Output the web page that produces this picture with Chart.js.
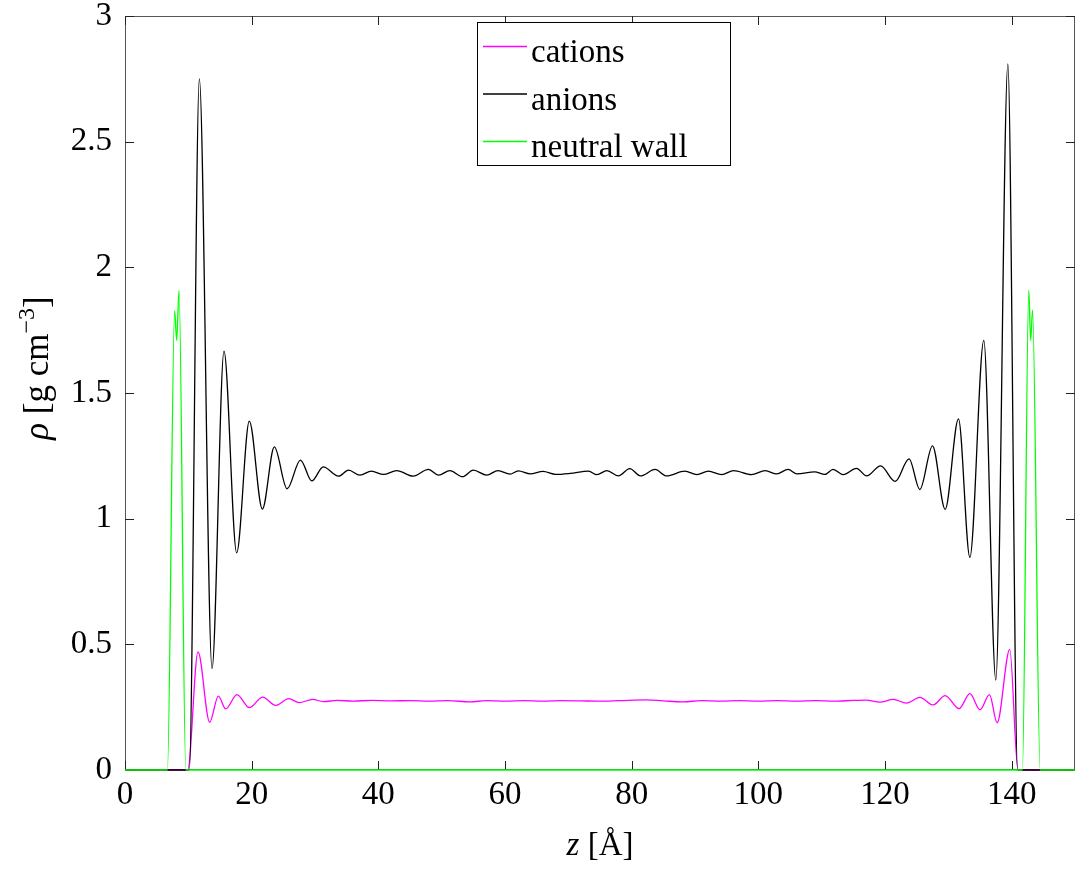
<!DOCTYPE html>
<html>
<head>
<meta charset="utf-8">
<script src="https://cdn.jsdelivr.net/npm/chart.js@4.4.1/dist/chart.umd.min.js"></script>
<style>
  html, body { margin: 0; padding: 0; background: #fff; }
  canvas { display: block; }
</style>
</head>
<body>
<canvas id="c" width="1076" height="870"></canvas>
<script>
// ---------- data ----------
const seriesLabels = ['cations', 'anions', 'neutral wall'];
const seriesColors = ['#ff00ff', '#000000', '#00ff00'];

const xTickValues = [0, 20, 40, 60, 80, 100, 120, 140];
const yTickValues = [0, 0.5, 1, 1.5, 2, 2.5, 3];

const zCations = [0, 9.9, 11.53, 13.37, 14.74, 15.9, 17.68, 19.63, 21.74, 23.8,
  25.85, 27.5, 29.64, 31.3, 33.5, 36, 39, 42, 45, 48,
  51, 54.5, 57, 60, 63, 66, 69, 72, 75, 78,
  82.4, 85, 88.1, 91, 94, 97, 100, 103, 106, 109,
  112, 115, 117, 119.2, 121.3, 123.4, 125.5, 127.6, 129.5, 131.7,
  133.4, 135.0, 136.5, 137.7, 139.7, 141.0, 150];
const rhoCations = [0, 0, 0.470, 0.190, 0.294, 0.243, 0.300, 0.248, 0.290, 0.257,
  0.284, 0.268, 0.281, 0.272, 0.277, 0.274, 0.277, 0.275, 0.276, 0.274,
  0.276, 0.271, 0.276, 0.274, 0.276, 0.274, 0.276, 0.275, 0.274, 0.276,
  0.279, 0.275, 0.271, 0.276, 0.274, 0.276, 0.274, 0.276, 0.274, 0.276,
  0.274, 0.277, 0.278, 0.270, 0.281, 0.266, 0.289, 0.259, 0.296, 0.244,
  0.304, 0.240, 0.300, 0.188, 0.480, 0, 0];

const zAnions = [0, 10.15, 11.74, 13.74, 15.63, 17.63, 19.63, 21.69, 23.58, 25.6,
  27.7, 29.5, 31.3, 33.7, 35.3, 37.1, 38.9, 40.8, 42.9, 45.5,
  47.9, 49.5, 51.3, 53.3, 55.0, 57.1, 58.9, 60.8, 62.1, 64.0,
  66.0, 68.0, 70.3, 73.2, 74.5, 76.1, 77.9, 79.7, 81.4, 83.7,
  85.5, 88.4, 90.3, 92.1, 94.2, 96.1, 98.9, 101.1, 102.9, 104.7,
  106.1, 108.9, 110.5, 111.8, 113.4, 115.5, 117.1, 119.3, 121.6, 123.8,
  125.5, 127.5, 129.5, 131.6, 133.4, 135.6, 137.5, 139.4, 140.95, 150];
const rhoAnions = [0, 0, 2.75, 0.403, 1.667, 0.864, 1.388, 1.038, 1.286, 1.119,
  1.233, 1.150, 1.206, 1.169, 1.193, 1.173, 1.189, 1.176, 1.191, 1.169,
  1.196, 1.173, 1.191, 1.167, 1.193, 1.173, 1.191, 1.177, 1.190, 1.178,
  1.188, 1.176, 1.180, 1.189, 1.175, 1.191, 1.170, 1.199, 1.170, 1.196,
  1.170, 1.189, 1.175, 1.189, 1.175, 1.191, 1.175, 1.191, 1.178, 1.196,
  1.178, 1.186, 1.176, 1.196, 1.175, 1.200, 1.170, 1.210, 1.148, 1.238,
  1.116, 1.290, 1.037, 1.397, 0.846, 1.709, 0.358, 2.809, 0, 0];

const zWall = [0, 6.7, 7.84, 8.16, 8.53, 9.6, 141.7, 142.7, 143.0, 143.3, 144.5, 150];
const rhoWall = [0, 0, 1.828, 1.709, 1.908, 0, 0, 1.909, 1.709, 1.830, 0, 0];

// ---------- helpers ----------
const pts = (zs, rs) => zs.map((z, i) => ({ x: z, y: rs[i] }));
const SERIF = '"Liberation Serif", "DejaVu Serif", serif';
const FS = 33;

// frame + inward ticks on all four sides
const framePlugin = {
  id: 'frame',
  beforeDatasetsDraw(chart) {
    const { ctx, chartArea: a, scales: { x, y } } = chart;
    ctx.save();
    ctx.lineWidth = 1;
    ctx.strokeStyle = '#555';
    ctx.strokeRect(a.left + 0.5, a.top + 0.5, a.right - a.left - 1, a.bottom - a.top - 1);
    ctx.strokeStyle = '#222';
    ctx.beginPath();
    const L = 9;
    x.ticks.forEach(t => {
      const p = Math.round(x.getPixelForValue(t.value)) + 0.5;
      ctx.moveTo(p, a.bottom); ctx.lineTo(p, a.bottom - L);
      ctx.moveTo(p, a.top); ctx.lineTo(p, a.top + L);
    });
    y.ticks.forEach(t => {
      const p = Math.round(y.getPixelForValue(t.value)) + 0.5;
      ctx.moveTo(a.left, p); ctx.lineTo(a.left + L, p);
      ctx.moveTo(a.right, p); ctx.lineTo(a.right - L, p);
    });
    ctx.stroke();
    ctx.restore();
  }
};

// legend box inside plot, MATLAB style
const legendPlugin = {
  id: 'boxLegend',
  afterDatasetsDraw(chart) {
    const { ctx, chartArea: a } = chart;
    const bx = a.left + 352, by = a.top + 6, bw = 253, bh = 143;
    ctx.save();
    ctx.fillStyle = '#fff';
    ctx.fillRect(bx, by, bw, bh);
    ctx.strokeStyle = '#000';
    ctx.lineWidth = 1;
    ctx.strokeRect(bx + 0.5, by + 0.5, bw, bh);
    ctx.font = FS + 'px ' + SERIF;
    ctx.textBaseline = 'alphabetic';
    ctx.textAlign = 'left';
    seriesLabels.forEach((lab, i) => {
      const ly = by + 24.5 + i * 47.5;
      ctx.strokeStyle = seriesColors[i];
      ctx.lineWidth = 1.3;
      ctx.beginPath();
      ctx.moveTo(bx + 6, ly); ctx.lineTo(bx + 50, ly);
      ctx.stroke();
      ctx.fillStyle = '#000';
      ctx.fillText(lab, bx + 54, ly + 15.5);
    });
    ctx.restore();
  }
};

// axis titles with mixed italic / superscript
const titlePlugin = {
  id: 'axisTitles',
  afterDraw(chart) {
    const { ctx, chartArea: a } = chart;
    ctx.save();
    ctx.fillStyle = '#000';
    ctx.textBaseline = 'alphabetic';
    ctx.textAlign = 'left';
    const it = 'italic ' + FS + 'px ' + SERIF;
    const rm = FS + 'px ' + SERIF;
    const it2 = 'italic 35px ' + SERIF;
    const rm2 = '35px ' + SERIF;
    const sm2 = '24px ' + SERIF;
    // x title: z [Å]
    drawParts(ctx, [[it, 'z', 0], [rm, ' [Å]', 0]], (a.left + a.right) / 2, 855);
    // y title: ρ [g cm^-3]
    ctx.translate(48, (a.top + a.bottom) / 2 - 25);
    ctx.rotate(-Math.PI / 2);
    drawParts(ctx, [[it2, 'ρ', 0], [rm2, ' [g cm', 0], [sm2, '−3', -14], [rm2, ']', 0]], 0, 0);
    ctx.restore();
  }
};
function drawParts(ctx, parts, cx, base) {
  let w = 0;
  parts.forEach(p => { ctx.font = p[0]; w += ctx.measureText(p[1]).width; });
  let x = cx - w / 2;
  parts.forEach(p => {
    ctx.font = p[0];
    ctx.fillText(p[1], x, base + p[2]);
    x += ctx.measureText(p[1]).width;
  });
}

const plainNum = v => String(v);

new Chart(document.getElementById('c'), {
  type: 'line',
  data: {
    datasets: [
      { label: seriesLabels[2], data: pts(zWall, rhoWall), borderColor: seriesColors[2], order: 0 },
      { label: seriesLabels[1], data: pts(zAnions, rhoAnions), borderColor: seriesColors[1], order: 1 },
      { label: seriesLabels[0], data: pts(zCations, rhoCations), borderColor: seriesColors[0], order: 2 }
    ]
  },
  options: {
    responsive: false,
    animation: false,
    devicePixelRatio: 1,
    layout: { padding: { top: 16, right: 1, left: 0, bottom: 0 } },
    plugins: { legend: { display: false }, tooltip: { enabled: false } },
    elements: {
      point: { radius: 0 },
      line: { borderWidth: 1.3, cubicInterpolationMode: 'monotone', fill: false }
    },
    datasets: { line: { clip: false } },
    scales: {
      x: {
        type: 'linear', min: 0, max: 150,
        afterBuildTicks: s => { s.ticks = xTickValues.map(v => ({ value: v })); },
        afterFit: s => { s.height = 100; s.paddingLeft = 0; s.paddingRight = 0; },
        grid: { display: false, drawTicks: false },
        border: { display: false },
        ticks: { color: '#000', font: { family: SERIF, size: FS }, padding: 6, maxRotation: 0, autoSkip: false, callback: plainNum }
      },
      y: {
        type: 'linear', min: 0, max: 3,
        afterBuildTicks: s => { s.ticks = yTickValues.map(v => ({ value: v })); },
        afterFit: s => { s.width = 125; s.paddingTop = 0; s.paddingBottom = 0; },
        grid: { display: false, drawTicks: false },
        border: { display: false },
        ticks: { color: '#000', font: { family: SERIF, size: FS }, padding: 13, autoSkip: false, callback: plainNum }
      }
    }
  },
  plugins: [framePlugin, legendPlugin, titlePlugin]
});
</script>
</body>
</html>
